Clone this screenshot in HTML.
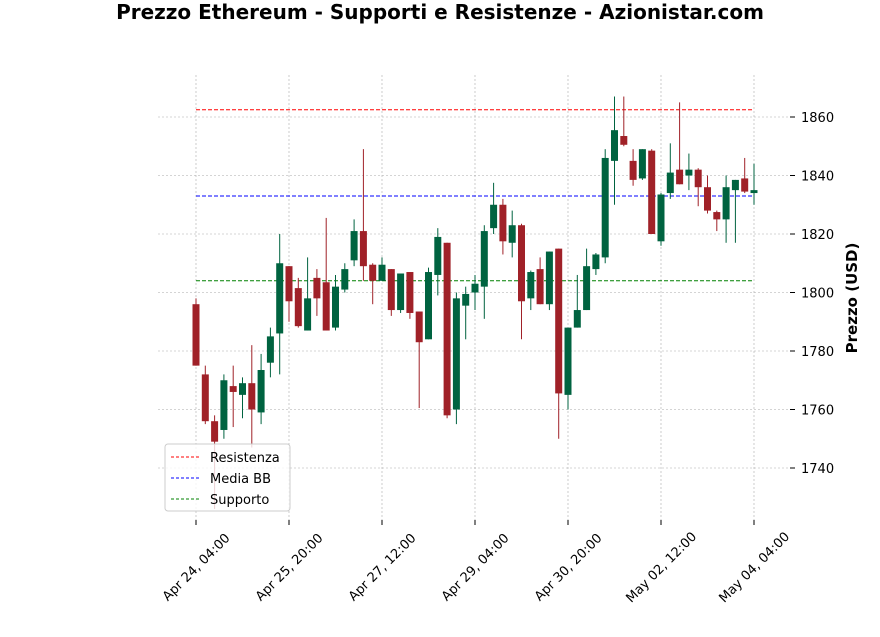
<!DOCTYPE html>
<html><head><meta charset="utf-8"><style>
body{margin:0;background:#fff;}
svg text{font-family:"DejaVu Sans","Liberation Sans",sans-serif;}
</style></head><body>
<svg id="chart" width="880" height="632" xmlns="http://www.w3.org/2000/svg">
<text x="440" y="19" text-anchor="middle" font-size="20" font-weight="bold">Prezzo Ethereum - Supporti e Resistenze - Azionistar.com</text>
<g id="grid"></g><g id="levels"></g><g id="candles"></g><g id="axes"></g>
<text transform="translate(857,298) rotate(-90)" text-anchor="middle" font-size="15" font-weight="bold">Prezzo (USD)</text>
<g>
<rect x="165" y="444" width="125" height="67" rx="3" fill="#fff" fill-opacity="0.8" stroke="#ccc"/>
<line x1="171" y1="457" x2="199" y2="457" stroke="#f00" stroke-dasharray="3,2"/><text x="210" y="462" font-size="13">Resistenza</text>
<line x1="171" y1="478" x2="199" y2="478" stroke="#00f" stroke-dasharray="3,2"/><text x="210" y="483" font-size="13">Media BB</text>
<line x1="171" y1="499" x2="199" y2="499" stroke="#008000" stroke-dasharray="3,2"/><text x="210" y="504" font-size="13">Supporto</text>
</g>
</svg>
<script>
const opens=[1796,1772,1756,1753,1768,1765,1769,1759,1776,1786,1809,1801.5,1787,1805,1803.5,1788,1801,1811,1821,1809.5,1804,1808,1794,1807,1793.5,1784,1806,1817,1760,1795.5,1800,1802,1822,1830,1817,1823,1798,1808,1796,1815,1765,1788,1794,1808,1812,1845,1853.5,1845,1839,1848.5,1817.5,1834,1842,1840,1842,1836,1827.5,1825,1835,1839,1834];
const highs=[1798,1775,1758,1772,1775,1771,1782,1779,1788,1820,1809,1805,1812,1808,1825.5,1806,1810,1825,1849,1810,1812,1808,1806.5,1807,1793.5,1808.5,1822,1817,1800,1802,1806,1823,1837.5,1832,1828,1823.5,1807.5,1812,1814,1815,1788,1806,1815,1813.5,1849,1867,1867,1849,1849,1849,1834,1851,1865,1847.5,1842.5,1840,1828,1840,1838.5,1846,1844];
const lows=[1775,1755,1726,1750,1754,1757,1747,1755,1771,1772,1790,1788,1787,1792,1787,1787,1800,1809,1804,1796,1804,1792,1793,1791,1760.5,1784,1799,1757,1755,1784,1794,1791,1820,1813,1812,1784,1794,1796,1794,1750,1760,1788,1794,1806,1810,1830,1850,1836.5,1838.5,1820,1816,1832,1837,1835,1829.5,1827,1821,1817,1817,1834,1830];
const closes=[1775,1756,1749,1770,1766,1769,1760,1773.5,1785,1810,1797,1788.5,1798,1798,1787,1802,1808,1821,1809,1804,1809.5,1794,1806.5,1793,1783,1807,1819,1758,1798,1799.5,1803,1821,1830,1817.5,1823,1797,1807,1796,1814,1765.5,1788,1794,1809,1813,1846,1855.5,1850.5,1838.5,1849,1820,1833.5,1841,1837,1842,1836,1828,1825,1836,1838.5,1834.5,1835];
const levelValues=[1862.5,1833,1804];
const levelColors=['#f00','#00f','#008000'];
const levelNames=['resistenza-line','media-bb-line','supporto-line'];
const yTicks=[1740,1760,1780,1800,1820,1840,1860];
const xTickIdx=[0,10,20,30,40,50,60];
const xTickLabels=['Apr 24, 04:00','Apr 25, 20:00','Apr 27, 12:00','Apr 29, 04:00','Apr 30, 20:00','May 02, 12:00','May 04, 04:00'];
const NS='http://www.w3.org/2000/svg';
const xS=i=>196+i*9.3;
const yS=v=>117+(1860-v)*2.925;
function mk(t,a,p){const e=document.createElementNS(NS,t);for(const k in a)e.setAttribute(k,a[k]);p.appendChild(e);return e;}
const grid=document.getElementById('grid'),axes=document.getElementById('axes');
yTicks.forEach(v=>{
 const g=mk('line',{x1:158,x2:790,y1:yS(v),y2:yS(v),stroke:'#aaa','stroke-width':0.6,'stroke-dasharray':'2,2'},grid);
 
 
 mk('line',{x1:790,x2:795,y1:yS(v),y2:yS(v),stroke:'#000'},axes);
 const t=mk('text',{x:801,y:yS(v)+5,'font-size':13},axes);t.textContent=v;
 
 
});
xTickIdx.forEach((idx,k)=>{
 const x=xS(idx);
 const g=mk('line',{x1:x,x2:x,y1:75,y2:520,stroke:'#aaa','stroke-width':0.6,'stroke-dasharray':'2,2'},grid);
 
 
 mk('line',{x1:x,x2:x,y1:520,y2:525,stroke:'#000'},axes);
 const t=mk('text',{transform:`translate(${x},${567}) rotate(-45)`,'text-anchor':'middle','font-size':13,dy:'0.35em'},axes);t.textContent=xTickLabels[k];
 
 
});
const lv=document.getElementById('levels');
levelValues.forEach((v,k)=>{
 const l=mk('line',{x1:xS(0),x2:xS(60),y1:yS(v),y2:yS(v),stroke:levelColors[k],'stroke-width':1,'stroke-dasharray':'4,2'},lv);
 
 
});
const cg=document.getElementById('candles');
opens.forEach((o,i)=>{
 const c=closes[i],up=c>=o,col=up?'#006340':'#a02128',x=xS(i);
 const g=mk('g',{},cg);
 
 
 mk('line',{x1:x,x2:x,y1:yS(highs[i]),y2:yS(lows[i]),stroke:col,'stroke-width':1},g);
 const t=yS(Math.max(o,c)),b=yS(Math.min(o,c));
 mk('rect',{x:x-3.5,y:t,width:7,height:Math.max(b-t,1),fill:col},g);
});
</script>
</body></html>
